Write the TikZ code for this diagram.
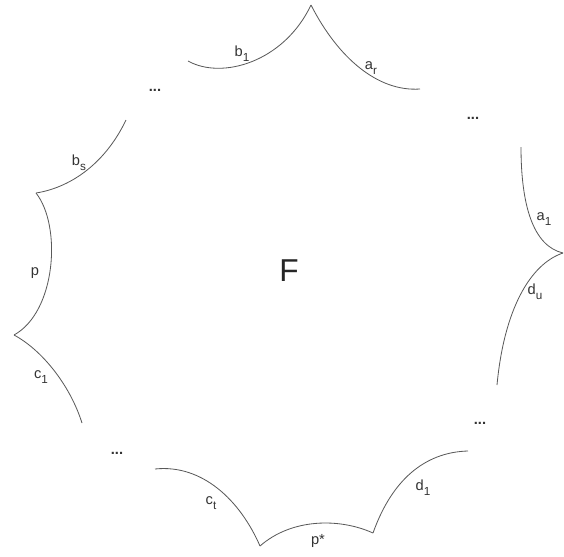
\documentclass[tikz,border=0pt]{standalone}
\usepackage{fontspec}
\setmainfont{Liberation Sans}
\usepackage{xcolor}
\usepackage{tikz}
\newcommand{\idx}[1]{\raisebox{-4pt}{\fontsize{10}{12}\selectfont #1}}
\tikzset{
  side/.style={draw=black!65, line width=0.7pt},
  lbl/.style={font=\fontsize{12.5}{14}\selectfont, text=black!80, inner sep=0pt},
  gap/.style={font=\fontsize{12.5}{14}\selectfont\bfseries, text=black!80, inner sep=0pt},
  big/.style={font=\fontsize{27}{30}\selectfont, text=black!85, inner sep=0pt}
}

\begin{document}
\begin{tikzpicture}[x=0.03cm,y=-0.03cm]
  \useasboundingbox (0,0) rectangle (564,556);
  \coordinate (b1s) at (188,61);
  \coordinate (top) at (311,5);
  \coordinate (are) at (420,89);
  \coordinate (a1s) at (521,147);
  \coordinate (right) at (563,253);
  \coordinate (due) at (497,385);
  \coordinate (d1e) at (468,451);
  \coordinate (botr) at (373,533);
  \coordinate (botl) at (260,546);
  \coordinate (cts) at (155,469);
  \coordinate (c1e) at (82,423);
  \coordinate (left) at (14,335);
  \coordinate (upl) at (36,193);
  \coordinate (bss) at (126,120);

  \draw[side] (b1s) .. controls (222,80) and (284,62) .. (top);
  \draw[side] (top) .. controls (338,58) and (378,92) .. (are);
  \draw[side] (a1s) .. controls (521,205) and (533,246) .. (right);
  \draw[side] (right) .. controls (530,264) and (504,310) .. (due);
  \draw[side] (d1e) .. controls (430,452) and (394,474) .. (botr);
  \draw[side] (botr) .. controls (340,518) and (292,518) .. (botl);
  \draw[side] (botl) .. controls (240,500) and (202,464) .. (cts);
  \draw[side] (c1e) .. controls (70,385) and (42,350) .. (left);
  \draw[side] (left) .. controls (56,312) and (62,226) .. (upl);
  \draw[side] (upl) .. controls (68,188) and (104,166) .. (bss);

  \node[lbl] (lb1) at (242,54) {b\idx{1}};
  \node[lbl] (lar) at (371,68) {a\idx{r}};
  \node[lbl] (la1) at (544,219) {a\idx{1}};
  \node[lbl] (ldu) at (535,292) {d\idx{u}};
  \node[lbl] (ld1) at (423,488) {d\idx{1}};
  \node[lbl] (lps) at (318,541) {p*};
  \node[lbl] (lct) at (211,503) {c\idx{t}};
  \node[lbl] (lc1) at (41,377) {c\idx{1}};
  \node[lbl] (lp) at (35,273) {p};
  \node[lbl] (lbs) at (79,163) {b\idx{s}};

  \node[gap] (g1) at (155,90) {...};
  \node[gap] (g2) at (473,118) {...};
  \node[gap] (g3) at (480,423) {...};
  \node[gap] (g4) at (117,453) {...};

  \node[big] (F) at (289,271) {F};
\end{tikzpicture}
\end{document}
